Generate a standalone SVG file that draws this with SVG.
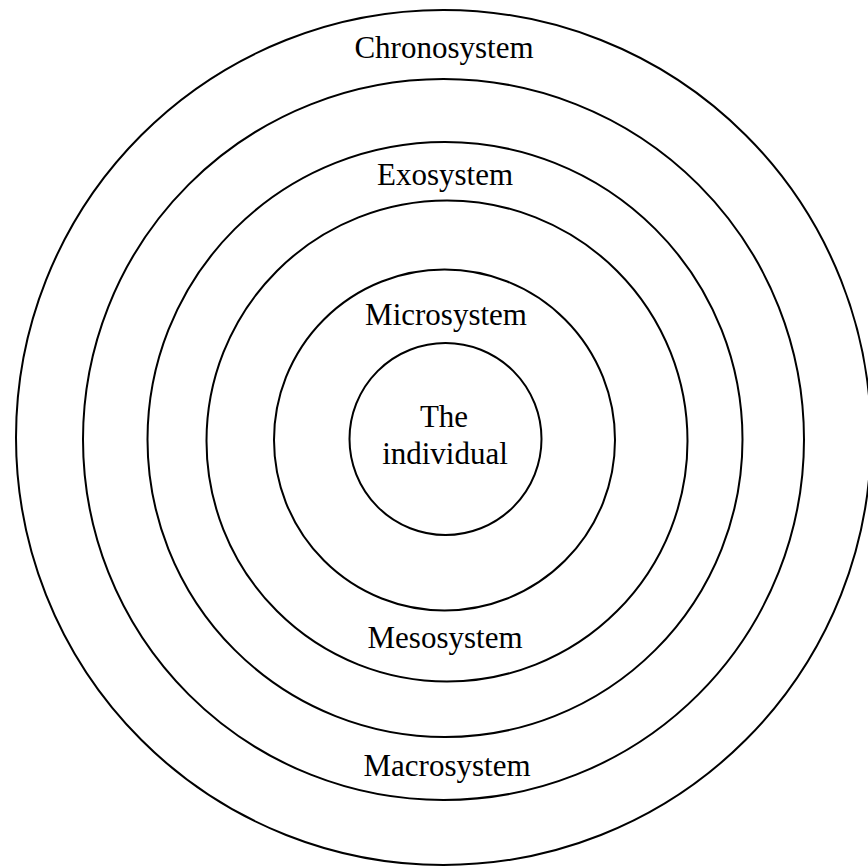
<svg xmlns="http://www.w3.org/2000/svg" width="868" height="867" viewBox="0 0 868 867">
<style>
.ring{fill:none;stroke:#000;stroke-width:2}
.lbl{font-family:"Liberation Serif","Times New Roman",serif;font-size:31px;fill:#000;text-anchor:middle}
</style>
<rect width="868" height="867" fill="#fff"/>
<g id="chronosystem"><circle class="ring" cx="443.5" cy="437.5" r="427.5"/><text class="lbl" x="444" y="58">Chronosystem</text></g>
<g id="macrosystem"><circle class="ring" cx="443.5" cy="439.5" r="360.5"/><text class="lbl" x="447" y="776">Macrosystem</text></g>
<g id="exosystem"><circle class="ring" cx="445" cy="439.5" r="297.5"/><text class="lbl" x="445" y="185">Exosystem</text></g>
<g id="mesosystem"><circle class="ring" cx="447" cy="441" r="240.5"/><text class="lbl" x="445" y="648">Mesosystem</text></g>
<g id="microsystem"><circle class="ring" cx="444.5" cy="440" r="170.5"/><text class="lbl" x="446" y="325">Microsystem</text></g>
<g id="individual"><circle class="ring" cx="445.5" cy="439" r="96"/><text class="lbl" x="444" y="427">The</text><text class="lbl" x="445" y="464">individual</text></g>
<g id="connectors"/>
</svg>
